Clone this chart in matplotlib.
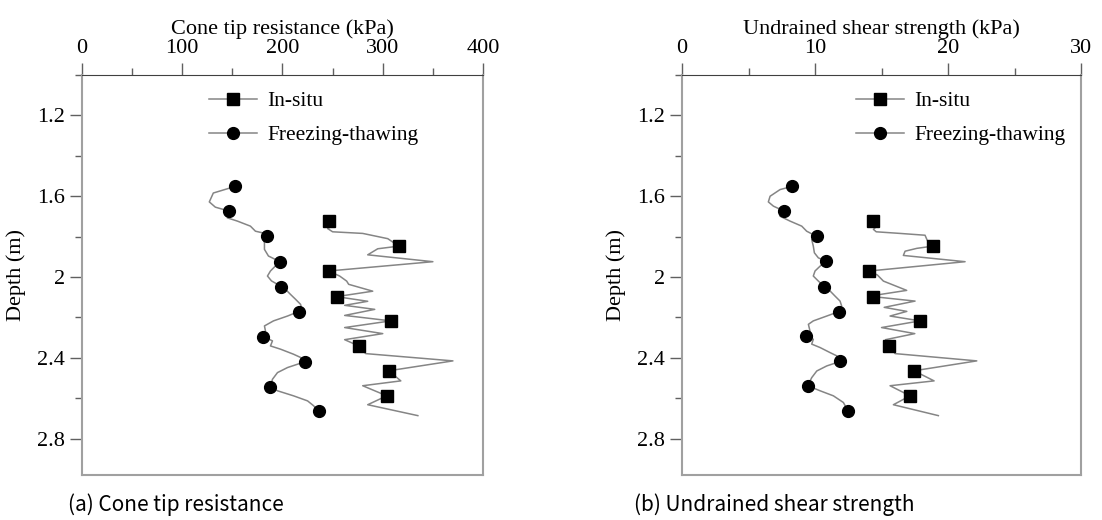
import matplotlib.pyplot as plt
from matplotlib.lines import Line2D
from matplotlib.ticker import MultipleLocator, FormatStrFormatter

# ---- data ----
# (a) cone tip resistance, kPa
qc_insitu_depth = [1.723, 1.74, 1.76, 1.776, 1.784, 1.81, 1.847, 1.86, 1.89, 1.924, 1.97, 1.995, 2.02,
                   2.036, 2.07, 2.097, 2.12, 2.14, 2.16, 2.19, 2.217, 2.25, 2.28, 2.31, 2.341, 2.379,
                   2.415, 2.464, 2.514, 2.538, 2.588, 2.632, 2.686]
qc_insitu = [247, 252, 245, 250, 280, 305, 316, 295, 285, 350, 246, 257, 264, 266, 290, 254, 285, 262,
             292, 262, 308, 262, 300, 262, 276, 283, 370, 306, 318, 280, 304, 285, 335]
qc_insitu_mk_depth = [1.723, 1.847, 1.970, 2.097, 2.217, 2.341, 2.464, 2.588]
qc_insitu_mk = [246, 316, 246, 254, 308, 276, 306, 304]

qc_ft_depth = [1.551, 1.584, 1.628, 1.654, 1.674, 1.707, 1.723, 1.748, 1.773, 1.781, 1.799, 1.814, 1.830,
               1.863, 1.896, 1.913, 1.924, 1.945, 1.970, 1.995, 2.019, 2.036, 2.049, 2.061, 2.086, 2.110,
               2.135, 2.152, 2.171, 2.193, 2.217, 2.242, 2.267, 2.295, 2.316, 2.341, 2.357, 2.382, 2.398,
               2.420, 2.448, 2.473, 2.506, 2.543, 2.563, 2.588, 2.613, 2.637, 2.665]
qc_ft = [153, 131, 127, 133, 147, 145, 155, 168, 173, 180, 185, 181, 182, 182, 186, 193, 198, 193, 188,
         185, 189, 195, 199, 203, 208, 213, 218, 219, 216, 205, 191, 182, 183, 181, 190, 188, 198, 211,
         218, 222, 205, 195, 190, 188, 195, 211, 225, 231, 236]
qc_ft_mk_depth = [1.551, 1.674, 1.799, 1.924, 2.049, 2.171, 2.295, 2.420, 2.543, 2.665]
qc_ft_mk = [153, 147, 185, 198, 199, 216, 181, 222, 188, 236]

# (b) undrained shear strength, kPa
su_insitu_depth = [1.723, 1.748, 1.764, 1.776, 1.784, 1.793, 1.819, 1.847, 1.858, 1.872, 1.893, 1.924,
                   1.970, 1.990, 2.020, 2.066, 2.086, 2.097, 2.119, 2.15, 2.17, 2.193, 2.217, 2.25,
                   2.28, 2.31, 2.341, 2.379, 2.415, 2.464, 2.514, 2.538, 2.588, 2.632, 2.686]
su_insitu = [14.34, 14.64, 14.39, 14.6, 16.39, 18.27, 18.44, 18.85, 17.65, 16.77, 16.64, 21.28, 14.08,
             14.69, 15.14, 16.89, 14.92, 14.38, 17.52, 15.2, 16.9, 15.64, 17.89, 15.0, 17.5, 15.3,
             15.59, 16.02, 22.16, 17.44, 18.95, 15.64, 17.14, 15.89, 19.27]
su_insitu_mk_depth = [1.723, 1.847, 1.970, 2.097, 2.217, 2.341, 2.464, 2.588]
su_insitu_mk = [14.34, 18.85, 14.08, 14.38, 17.89, 15.59, 17.44, 17.14]

su_ft_depth = [1.551, 1.567, 1.600, 1.628, 1.649, 1.674, 1.699, 1.723, 1.748, 1.773, 1.786, 1.797, 1.814,
               1.847, 1.880, 1.905, 1.921, 1.946, 1.970, 1.995, 2.020, 2.048, 2.069, 2.094, 2.119, 2.143,
               2.171, 2.193, 2.217, 2.234, 2.267, 2.291, 2.308, 2.332, 2.349, 2.374, 2.390, 2.418, 2.440,
               2.465, 2.498, 2.538, 2.563, 2.588, 2.621, 2.665]
su_ft = [8.29, 7.37, 6.62, 6.49, 6.87, 7.69, 7.37, 8.12, 9.0, 9.37, 9.75, 10.13, 9.75, 9.87, 9.95, 10.25,
         10.83, 10.38, 10.0, 9.87, 10.25, 10.70, 11.13, 11.50, 11.88, 12.0, 11.80, 10.88, 9.87, 9.5, 9.62,
         9.30, 9.87, 9.75, 10.38, 11.13, 11.63, 11.88, 10.88, 10.13, 9.75, 9.45, 10.38, 11.38, 12.13, 12.5]
su_ft_mk_depth = [1.551, 1.674, 1.797, 1.921, 2.048, 2.171, 2.291, 2.418, 2.538, 2.665]
su_ft_mk = [8.29, 7.69, 10.13, 10.83, 10.70, 11.80, 9.30, 11.88, 9.45, 12.5]

x_titles = ['Cone tip resistance (kPa)', 'Undrained shear strength (kPa)']
x_limits = [(0, 400), (0, 30)]
x_major = [100, 10]
captions = ['(a) Cone tip resistance', '(b) Undrained shear strength']

plt.rcParams['font.family'] = ['Liberation Serif', 'DejaVu Serif']
line_col = '#858585'
spine_col = '#a0a0a0'

fig = plt.figure(figsize=(11.02, 5.2), dpi=100)
ax1 = fig.add_axes([0.0744, 0.0865, 0.3639, 0.7692])
ax2 = fig.add_axes([0.6189, 0.0865, 0.3621, 0.7692])

panels = [
    (ax1, qc_insitu_depth, qc_insitu, qc_insitu_mk_depth, qc_insitu_mk,
     qc_ft_depth, qc_ft, qc_ft_mk_depth, qc_ft_mk),
    (ax2, su_insitu_depth, su_insitu, su_insitu_mk_depth, su_insitu_mk,
     su_ft_depth, su_ft, su_ft_mk_depth, su_ft_mk),
]
legend_x = [0.888, 1.01]

for i, (ax, d1, v1, md1, mv1, d2, v2, md2, mv2) in enumerate(panels):
    ax.plot(v1, d1, color=line_col, lw=1.1, zorder=2)
    ax.plot(mv1, md1, 's', color='black', ms=8, zorder=3)
    ax.plot(v2, d2, color=line_col, lw=1.1, zorder=2)
    ax.plot(mv2, md2, 'o', color='black', ms=8.5, zorder=3)

    ax.set_xlim(*x_limits[i])
    ax.set_ylim(2.98, 1.0)
    ax.xaxis.tick_top()
    ax.xaxis.set_label_position('top')
    ax.set_xlabel(x_titles[i], fontsize=16, labelpad=4)
    ax.set_ylabel('Depth (m)', fontsize=16, labelpad=8)
    ax.xaxis.set_major_locator(MultipleLocator(x_major[i]))
    ax.xaxis.set_minor_locator(MultipleLocator(x_major[i] / 2))
    ax.yaxis.set_minor_locator(MultipleLocator(0.2))
    ax.yaxis.set_major_formatter(FormatStrFormatter('%g'))
    ax.set_yticks([1.2, 1.6, 2.0, 2.4, 2.8])
    ax.tick_params(axis='both', which='major', length=9, width=1, color='#606060',
                   labelsize=16, direction='out')
    ax.tick_params(axis='both', which='minor', length=5, width=1, color='#606060', direction='out')
    ax.tick_params(axis='x', pad=3)
    for s in ['left', 'right', 'bottom']:
        ax.spines[s].set_color(spine_col)
        ax.spines[s].set_linewidth(1.5)
    ax.spines['top'].set_color('#404040')

    handles = [Line2D([], [], color=line_col, lw=1.1, marker='s', mfc='black', mec='black', ms=8),
               Line2D([], [], color=line_col, lw=1.1, marker='o', mfc='black', mec='black', ms=8.5)]
    ax.legend(handles, ['In-situ', 'Freezing-thawing'], loc='upper right',
              bbox_to_anchor=(legend_x[i], 1.008), frameon=False, fontsize=15.5,
              handlelength=2.2, handletextpad=0.5, labelspacing=0.65)

    fig.text([0.16, 0.703][i], 0.03, captions[i], ha='center', va='center', fontsize=15,
             family=['Noto Sans CJK KR', 'DejaVu Sans'])

fig.savefig('out.png', dpi=100)
